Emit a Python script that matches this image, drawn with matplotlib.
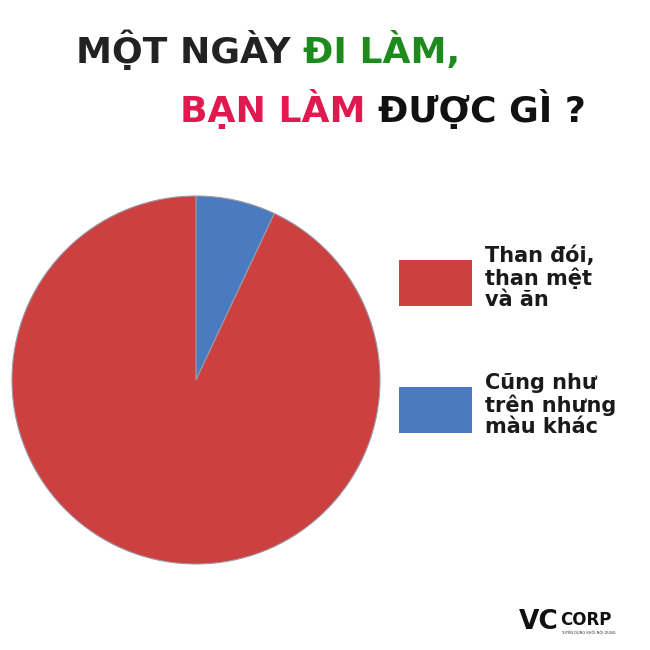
import matplotlib
matplotlib.use("Agg")
import matplotlib.pyplot as plt
from matplotlib.patches import Rectangle

# ==== DATA ====
labels = ["Cũng như\ntrên nhưng\nmàu khác", "Than đói,\nthan mệt\nvà ăn"]
values = [7, 93]
colors = ["#4a7bc0", "#cd4040"]
legend_order = [1, 0]

title_line_1 = [("MỘT NGÀY ", "#222222"), ("ĐI LÀM,", "#1d8a1d")]
title_line_2 = [("BẠN LÀM ", "#e0194f"), ("ĐƯỢC GÌ ?", "#111111")]

W = H = 650
fig = plt.figure(figsize=(6.5, 6.5), dpi=100)
fig.patch.set_facecolor("white")

# ==== PIE ====
cx, cy, r = 196, 380, 184
ax = fig.add_axes([(cx - r) / W, 1 - (cy + r) / H, 2 * r / W, 2 * r / H])
ax.pie(values, colors=colors, startangle=90, counterclock=False,
       wedgeprops=dict(edgecolor="#9a9aa8", linewidth=0.8))
ax.set_xlim(-1, 1)
ax.set_ylim(-1, 1)
ax.set_aspect("equal")
ax.axis("off")

# ==== TITLE (pieces chained by measured width) ====
renderer = fig.canvas.get_renderer()
tfont = dict(family=["DejaVu Sans"], weight="bold", fontsize=26)


def title_line(parts, x0, y0):
    x = x0
    for txt, col in parts:
        t = fig.text(x / W, 1 - y0 / H, txt, color=col, ha="left", va="baseline", **tfont)
        bb = t.get_window_extent(renderer=renderer)
        x += bb.width


title_line(title_line_1, 76, 63)
title_line(title_line_2, 180, 122)

# ==== LEGEND ====
lfont = dict(family=["DejaVu Sans"], weight="bold", fontsize=15)
box_y = [283, 410]
for i, idx in enumerate(legend_order):
    y = box_y[i]
    fig.patches.append(Rectangle((399 / W, 1 - (y + 23) / H), 73 / W, 46 / H,
                                 transform=fig.transFigure, facecolor=colors[idx],
                                 edgecolor="none"))
    fig.text(485 / W, 1 - (y - 5) / H, labels[idx], color="#1a1a1a",
             ha="left", va="center", linespacing=1.08, **lfont)

# ==== WATERMARK ====
fig.text(519 / W, 1 - 622 / H, "VC", color="#111111", ha="left", va="center",
         family=["DejaVu Sans"], weight="bold", fontsize=19)
fig.text(560 / W, 1 - 620 / H, "CORP", color="#111111", ha="left", va="center",
         family=["DejaVu Sans"], weight="bold", fontsize=12)
fig.text(561 / W, 1 - 633 / H, "TUYỂN DỤNG KHỐI NỘI DUNG", color="#333333",
         ha="left", va="center", family=["DejaVu Sans"], fontsize=2.6)

fig.savefig("out.png", dpi=100, facecolor="white")
